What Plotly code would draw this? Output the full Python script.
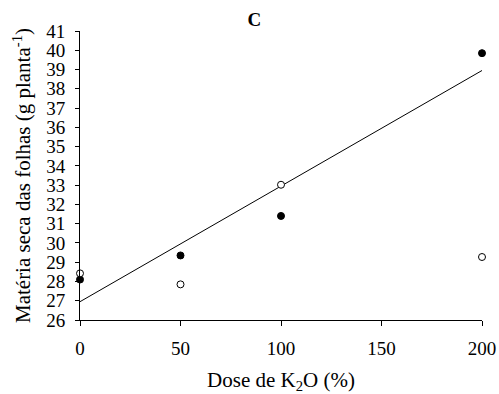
import plotly.graph_objects as go

dose = [0, 50, 100, 200]
filled_vals = [28.1, 29.35, 31.4, 39.85]
open_vals = [28.42, 27.85, 33.02, 29.27]
fit_x = [0, 200]
fit_y = [26.95, 38.95]
y_ticks = list(range(26, 42))
x_ticks = [0, 50, 100, 150, 200]

FONT = "Liberation Serif, Times New Roman, serif"

fig = go.Figure()
fig.add_trace(go.Scatter(x=fit_x, y=fit_y, mode="lines",
                         line=dict(color="black", width=1), showlegend=False,
                         cliponaxis=False))
fig.add_trace(go.Scatter(x=dose, y=filled_vals, mode="markers",
                         marker=dict(color="black", size=7, line=dict(color="black", width=1)),
                         showlegend=False, cliponaxis=False))
fig.add_trace(go.Scatter(x=dose, y=open_vals, mode="markers",
                         marker=dict(color="white", size=7, line=dict(color="black", width=1)),
                         showlegend=False, cliponaxis=False))

fig.update_layout(
    width=499, height=394,
    margin=dict(l=80, r=17, t=31, b=74, autoexpand=False),
    paper_bgcolor="white", plot_bgcolor="white",
    font=dict(family=FONT, size=19, color="black"),
    title=dict(text="<b>C</b>", x=0.51, xanchor="center", y=0.95, yanchor="middle",
               font=dict(family=FONT, size=19, color="black")),
    xaxis=dict(range=[0, 200], tickvals=x_ticks, showgrid=False, zeroline=False,
               showline=True, linecolor="black", linewidth=1, automargin=False,
               ticks="outside", ticklen=5, tickcolor="black", tickwidth=1,
               ticklabelstandoff=6,
               tickfont=dict(family=FONT, size=19),
               title=dict(text="Dose de K<sub>2</sub>O (%)", standoff=21,
                          font=dict(family=FONT, size=21))),
    yaxis=dict(range=[26, 41], tickvals=y_ticks, showgrid=False, zeroline=False,
               showline=True, linecolor="black", linewidth=1, automargin=False,
               ticks="outside", ticklen=4, tickcolor="black", tickwidth=1,
               ticklabelstandoff=6,
               tickfont=dict(family=FONT, size=19),
               title=dict(text="Matéria seca das folhas (g planta<sup>-1</sup>)", standoff=9,
                          font=dict(family=FONT, size=21))),
)

fig.write_html("out.html")
